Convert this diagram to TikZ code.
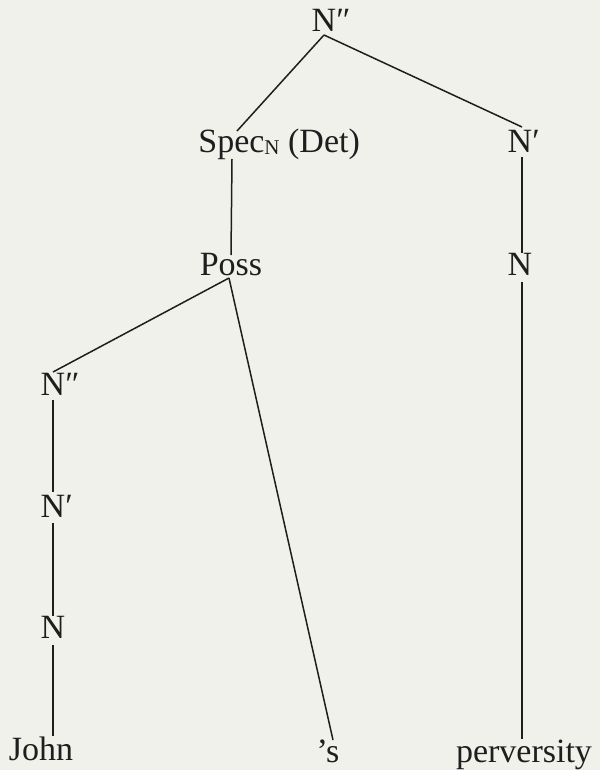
\documentclass[tikz,border=0pt]{standalone}
\usepackage{fontspec}
\setmainfont{Liberation Serif}
\definecolor{bgc}{RGB}{241,241,236}
\definecolor{ink}{RGB}{30,30,30}
\begin{document}
\begin{tikzpicture}[x=1pt,y=-1pt,
  lbl/.style={anchor=base,inner sep=0pt,text=ink,font=\fontsize{34}{40}\selectfont},
  edge/.style={draw=ink,line width=1.5pt}]
\fill[bgc] (0,0) rectangle (600,770);
\useasboundingbox (0,0) rectangle (600,770);
% nodes
\node[lbl] (root) at (324,32) {N\rlap{″}};
\node[lbl] (spec) at (239,153) {Spec\raisebox{-1.5pt}{\fontsize{21}{22}\selectfont N}\rlap{ (Det)}};
\node[lbl] (nbr) at (520,153) {N\rlap{′}};
\node[lbl] (poss) at (231,275) {Poss};
\node[lbl] (nr) at (520,275) {N};
\node[lbl] (nbl) at (53,395) {N\rlap{″}};
\node[lbl] (npl) at (53,517) {N\rlap{′}};
\node[lbl] (nl) at (53,638) {N};
\node[lbl] (john) at (41,760) {John};
\node[lbl] (s) at (328,762) {’s};
\node[lbl] (perv) at (524,762) {perversity};
% edges
\draw[edge] ([yshift=-3pt]root.base) -- ([xshift=-2pt,yshift=22pt]spec.base);
\draw[edge] ([yshift=-3pt]root.base) -- ([xshift=2pt,yshift=26pt]nbr.base);
\draw[edge] ([xshift=-7pt,yshift=-6pt]spec.base) -- ([yshift=20pt]poss.base);
\draw[edge] ([xshift=2pt,yshift=-4pt]nbr.base) -- ([xshift=2pt,yshift=22pt]nr.base);
\draw[edge] ([xshift=2pt,yshift=-7pt]nr.base) -- ([xshift=2pt]nr.base |- perv.north);
\draw[edge] ([xshift=-2pt,yshift=-3pt]poss.base) -- ([yshift=23pt]nbl.base);
\draw[edge] ([xshift=-2pt,yshift=-3pt]poss.base) -- ([xshift=5pt,yshift=22pt]s.base);
\draw[edge] ([yshift=-5pt]nbl.base) -- ([yshift=25pt]npl.base);
\draw[edge] ([yshift=-6pt]npl.base) -- ([yshift=22pt]nl.base);
\draw[edge] ([yshift=-7pt]nl.base) -- (nl.base |- john.north);
\end{tikzpicture}
\end{document}
